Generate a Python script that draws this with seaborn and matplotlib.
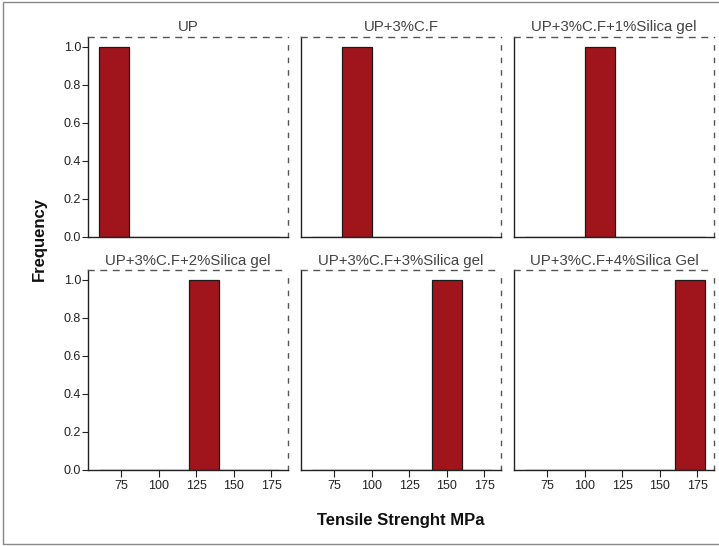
import numpy as np
import pandas as pd
import matplotlib
matplotlib.use("Agg")
import matplotlib.pyplot as plt
import seaborn as sns
from matplotlib.patches import Rectangle

groups = ["UP", "UP+3%C.F", "UP+3%C.F+1%Silica gel",
          "UP+3%C.F+2%Silica gel", "UP+3%C.F+3%Silica gel", "UP+3%C.F+4%Silica Gel"]
tensile = [70, 90, 110, 130, 150, 170]
bin_edges = [60, 80, 100, 120, 140, 160, 180]
x_ticks = [75, 100, 125, 150, 175]
y_ticks = [0.0, 0.2, 0.4, 0.6, 0.8, 1.0]

df = pd.DataFrame({"group": groups, "tensile": tensile})

sns.set_theme(style="white")
plt.rcParams["font.family"] = ["Liberation Sans", "DejaVu Sans"]

fig, axes = plt.subplots(2, 3, figsize=(7.19, 5.46), dpi=100, sharex=True, sharey=True)
fig.subplots_adjust(left=88/719, right=714/719, top=1-37/546, bottom=1-470/546,
                    wspace=0.065, hspace=0.17)

bar_color = "#A0151B"
for i, (ax, g) in enumerate(zip(axes.flat, groups)):
    sub = df[df["group"] == g]
    sns.histplot(data=sub, x="tensile", bins=bin_edges, ax=ax, color=bar_color,
                 alpha=1, edgecolor="#1a1a1a", linewidth=0.9)
    ax.set_xlim(53, 186.3)
    ax.set_ylim(0, 1.05)
    ax.set_title(g, fontsize=10.8, color="#444444", pad=4)
    ax.set_xlabel("")
    ax.set_ylabel("")
    for s in ["left", "bottom"]:
        ax.spines[s].set_color("#222222")
        ax.spines[s].set_linewidth(1.0)
    for s in ["top", "right"]:
        ax.spines[s].set_color("#555555")
        ax.spines[s].set_linewidth(1.0)
    ax.spines["top"].set_linestyle((0, (4, 5)))
    ax.spines["right"].set_linestyle((0, (3, 6)))
    ax.set_yticks(y_ticks)
    ax.set_yticklabels([f"{v:.1f}" for v in y_ticks])
    ax.set_xticks(x_ticks)
    row, col = divmod(i, 3)
    ax.tick_params(axis="y", which="both", left=(col == 0), labelleft=(col == 0),
                   length=4, width=0.8, color="#222222", labelsize=9, labelcolor="#222222", pad=1)
    ax.tick_params(axis="x", which="both", bottom=(row == 1), labelbottom=(row == 1),
                   length=5, width=0.8, color="#222222", labelsize=9, labelcolor="#222222", pad=2)

fig.text(39/719, 1-239/546, "Frequency", rotation=90, ha="center", va="center",
         fontsize=12, fontweight="bold", color="#111111")
fig.text(401/719, 1-520/546, "Tensile Strenght MPa", ha="center", va="center",
         fontsize=12, fontweight="bold", color="#111111")

fig.patches.append(Rectangle((3/719, 2/546), 720/719, 542/546, transform=fig.transFigure,
                             fill=False, edgecolor="#888888", linewidth=1.0))

fig.savefig("out.png", dpi=100)
